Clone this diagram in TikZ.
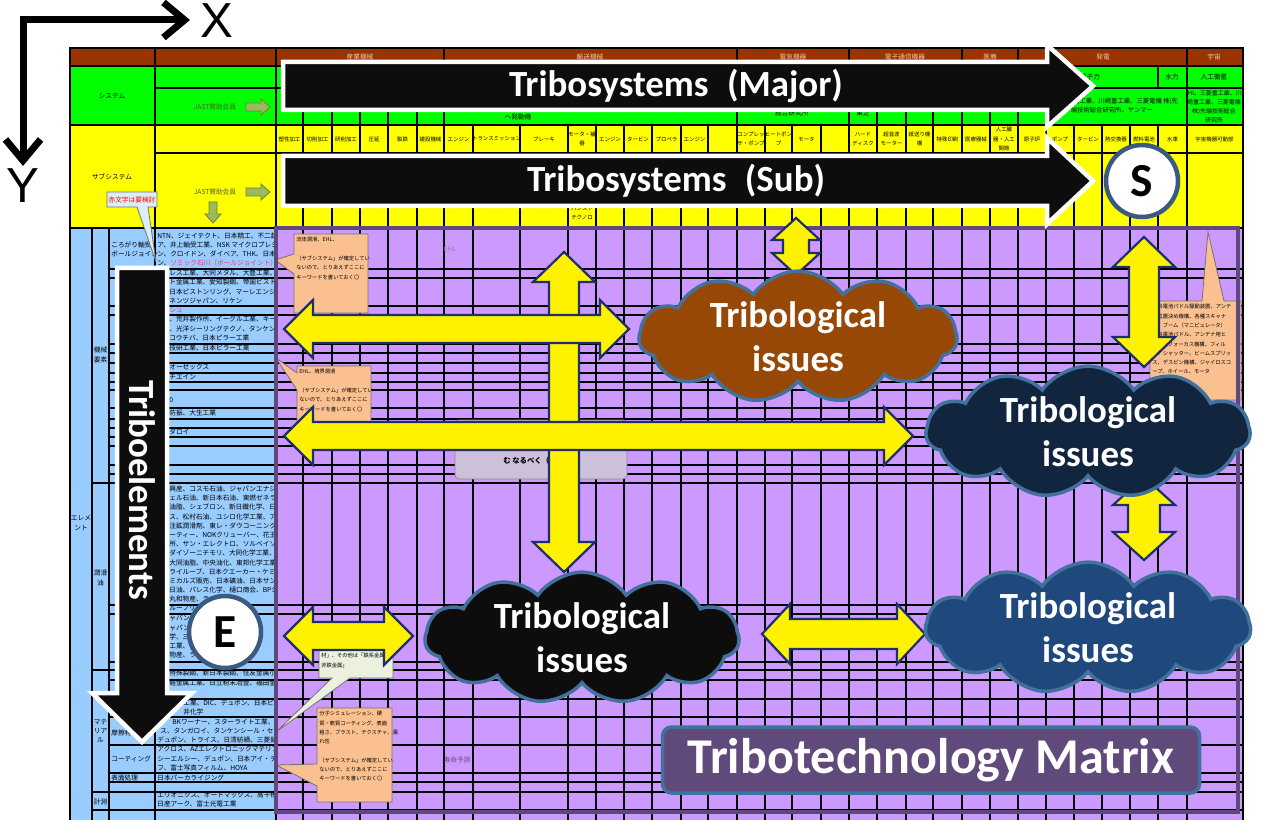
\documentclass[tikz,border=0pt]{standalone}
\usepackage{fontspec}
\usepackage{tikz}
\setmainfont{Carlito}
\newfontfamily\jp{Noto Sans CJK JP}
\newfontfamily\axfont{Liberation Sans}
\XeTeXlinebreaklocale "ja"
\XeTeXlinebreakskip=0pt plus 1pt
\usetikzlibrary{shapes.symbols,arrows.meta}
\newdimen\pxu \pxu=0.02cm
\definecolor{hdrbrown}{HTML}{993300}
\definecolor{sysgreen}{HTML}{00FF00}
\definecolor{subyellow}{HTML}{FFFF00}
\definecolor{elemblue}{HTML}{99CCFF}
\definecolor{matpurple}{HTML}{CC99FF}
\definecolor{framepurple}{HTML}{5F497A}
\definecolor{hdrpink}{HTML}{F2C4B0}
\definecolor{notepeach}{HTML}{FAC090}
\definecolor{notegreen}{HTML}{EBF1DE}
\definecolor{tipblue}{HTML}{DBEEF4}
\definecolor{boxgray}{HTML}{CCC0DA}
\definecolor{arrownavy}{HTML}{1F2F6E}
\definecolor{cloudedge}{HTML}{41719C}
\definecolor{circedge}{HTML}{3B5A82}
\definecolor{brownissue}{HTML}{974806}
\definecolor{navyissue}{HTML}{11253F}
\definecolor{blackissue}{HTML}{0D0D0D}
\definecolor{blueissue}{HTML}{1F497D}
\definecolor{ttmpurple}{HTML}{604A7B}
\definecolor{olivearr}{HTML}{9BBB59}
\definecolor{jastolive}{HTML}{4F6228}
\definecolor{redtxt}{HTML}{FF3366}
\tikzset{
    grid/.style={line width=1.3\pxu, black},
    jpt/.style={font=\jp\fontsize{3.8}{5.3}\selectfont, inner sep=0pt},
    subname/.style={font=\jp\fontsize{3.1}{5.4}\selectfont, inner sep=0pt, align=center},
    notetxt/.style={font=\jp\fontsize{3}{5.3}\selectfont, inner sep=0pt, align=left, anchor=north west},
    note/.style={draw=black!55, fill=notepeach, line width=0.8\pxu},
    jastarrow/.style={fill=olivearr, draw=olivearr!70!black, line width=0.8\pxu},
    yarrow/.style={fill=yellow, draw=arrownavy, line width=2.2\pxu, line join=miter},
    barrow/.style={fill=blackissue, draw=white, line width=4.5\pxu, line join=miter},
    bigtxt/.style={text=white, font=\fontsize{21}{25}\selectfont\bfseries, inner sep=0pt},
    issue/.style={cloud, cloud puffs=11, cloud puff arc=110, cloud ignores aspect,
        draw=cloudedge, line width=3.5\pxu, bigtxt, align=center},
    letter/.style={circle, draw=circedge, fill=white, line width=4.5\pxu,
        minimum size=72\pxu, inner sep=0pt, font=\fontsize{27}{27}\selectfont\bfseries},
    axis/.style={line width=7\pxu, line join=miter,
        {Straight Barb[length=12pt, width=20pt]}-{Straight Barb[length=12pt, width=20pt]}},
    axlbl/.style={font=\axfont\fontsize{28}{28}\selectfont, inner sep=0pt}
}
% horizontal / vertical double block arrows
\newcommand{\hdbl}[6]{\draw[yarrow] (#1,#3) -- ({#1+#4},{#3-#5}) -- ({#1+#4},{#3-#6})
    -- ({#2-#4},{#3-#6}) -- ({#2-#4},{#3-#5}) -- (#2,#3) -- ({#2-#4},{#3+#5})
    -- ({#2-#4},{#3+#6}) -- ({#1+#4},{#3+#6}) -- ({#1+#4},{#3+#5}) -- cycle;}
\newcommand{\vdbl}[6]{\draw[yarrow] (#1,#2) -- ({#1+#5},{#2+#4}) -- ({#1+#6},{#2+#4})
    -- ({#1+#6},{#3-#4}) -- ({#1+#5},{#3-#4}) -- (#1,#3) -- ({#1-#5},{#3-#4})
    -- ({#1-#6},{#3-#4}) -- ({#1-#6},{#2+#4}) -- ({#1-#5},{#2+#4}) -- cycle;}
\newcommand{\bigright}[6]{\draw[barrow] (#1,{#4-#5}) -- (#2,{#4-#5}) -- (#2,{#4-#6})
    -- (#3,#4) -- (#2,{#4+#6}) -- (#2,{#4+#5}) -- (#1,{#4+#5}) -- cycle;}

\begin{document}
\begin{tikzpicture}[x=0.02cm, y=-0.02cm]
\useasboundingbox (0,0) rectangle (1263,820);

% sheet background
\fill[hdrbrown] (70,48) rectangle (1243,66);
\fill[sysgreen] (70,66) rectangle (1243,125);
\fill[subyellow] (70,125) rectangle (1243,228);
\fill[elemblue] (70,228) rectangle (276,820);
\fill[matpurple] (276,228) rectangle (1243,820);

% grid
\foreach \cx in {155,276} \draw[grid] (\cx,48) -- (\cx,820);
\foreach \cx in {444,737,849,962,1018,1187} \draw[grid] (\cx,48) -- (\cx,66);
\foreach \cy in {66,125,228} \draw[grid] (70,\cy) -- (1243,\cy);
\foreach \cy in {88,153} \draw[grid] (155,\cy) -- (1243,\cy);
\foreach \cx in {303,332,360,388,417,444,473,520,568,596,624,652,681,708,737,765,792,821,
    849,877,906,933,962,990,1018,1046,1074,1158,1187} \draw[grid] (\cx,66) -- (\cx,88);
\foreach \cx in {303,332,360,388,417,444,737,849,877,906,933,962,990,1018,1187}
    \draw[grid] (\cx,88) -- (\cx,125);
\foreach \cx in {303,332,360,388,417,444,473,520,568,596,624,652,681,708,737,765,792,821,
    849,877,906,933,962,990,1018,1046,1074,1102,1130,1158,1187} \draw[grid] (\cx,125) -- (\cx,820);
\foreach \cx in {92,109} \draw[grid] (\cx,228) -- (\cx,820);
\foreach \cy in {269,278,306,315,344,353,363,373,382,390,408,419,428,437,446,465,474,483,
    605,614,662,670,680,699,717,745,773,782,792,810} \draw[grid] (109,\cy) -- (1243,\cy);
\foreach \cy in {483,670,792,810} \draw[grid] (92,\cy) -- (109,\cy);

% header row
\foreach \hx/\gtxt in {360/産業機械, 590/輸送機械, 793/電気機器, 905/電子通信機器, 990/医療,
    1103/発電, 1214/宇宙}
    \node[jpt, text=hdrpink] (grp\hx) at (\hx,57) {\gtxt};

% system rows
\node[jpt] (sys) at (112,96) {システム};
\node[jpt] (subsys) at (112,177) {サブシステム};
\node[jpt, text=jastolive] (jastA) at (215,107) {JAST賛助会員};
\node[jpt, text=jastolive] (jastB) at (215,192) {JAST賛助会員};
\draw[jastarrow] (246,103) -- (261,103) -- (261,99) -- (270,107) -- (261,115) -- (261,111) -- (246,111) -- cycle;
\draw[jastarrow] (246,188) -- (261,188) -- (261,184) -- (270,192) -- (261,200) -- (261,196) -- (246,196) -- cycle;
\draw[jastarrow] (209,202) -- (217,202) -- (217,214) -- (221,214) -- (213,223) -- (205,214) -- (209,214) -- cycle;
\node[jpt] (hatsu) at (518,117) {ヘ発動機};
\node[jpt] (soken) at (792,113) {総合研究所};
\node[jpt] (toshiba) at (863,113) {東芝};
\node[jpt] (genshi) at (1090,77) {原子力};
\node[jpt] (suiryoku) at (1172,77) {水力};
\node[jpt] (eisei) at (1214,77) {人工衛星};
\node[subname, font=\jp\fontsize{3.4}{5.1}\selectfont] (eiseico) at (1214,107)
    {IHI、三菱重工業、川\\崎重工業、三菱電機\\株)先端技術総合\\研究所};
\node[subname, font=\jp\fontsize{3.6}{5.2}\selectfont] (hatsuco) at (1112,106) {IHI、三菱重工業、川崎重工業、三菱電機 株)先\\端技術総合研究所、ヤンマー};

\foreach \ca/\cb/\stxt in {276/303/塑性加工, 303/332/切削加工, 332/360/研削加工, 360/388/圧延,
    388/417/製鉄, 417/444/建設機械, 444/473/エンジン, 473/520/トランスミッション, 520/568/ブレーキ,
    568/596/{モータ・補\\器}, 596/624/エンジン, 624/652/タービン, 652/681/プロペラ, 681/708/エンジン,
    737/765/{コンプレッ\\サ・ポンプ}, 765/792/{ヒートポン\\プ}, 792/821/モータ,
    849/877/{ハード\\ディスク}, 877/906/{超音波\\モーター}, 906/933/{紙送り機\\構}, 933/962/特殊印刷,
    962/990/医療器械, 990/1018/{人工臓\\器・人工\\関節}, 1018/1046/原子炉, 1046/1074/ポンプ,
    1074/1102/タービン, 1102/1130/熱交換器, 1130/1158/燃料電池, 1158/1187/水車, 1187/1242/宇宙機器可動部}
    \node[subname] (sub\ca) at ({(\ca+\cb)/2},139) {\stxt};
\node[subname] (seiki) at (492,205) {精機、};
\node[subname] (pansuto) at (582,213) {パンスト\\テクノロ};

% element labels
\node[jpt, align=center] (elem) at (81,523) {エレメ\\ント};
\node[jpt, align=center] (kikai) at (100.5,355) {機械\\要素};
\node[jpt, align=center] (junkatsu) at (100.5,578) {潤滑\\油};
\node[jpt, align=center] (material) at (100.5,731) {マテ\\リア\\ル};
\node[jpt] (keisoku) at (100.5,802) {計測};
\node[jpt, anchor=west] (korogari) at (111,245) {ころがり軸受/};
\node[jpt, anchor=west] (balljoint) at (111,254) {ボールジョイン};
\node[jpt, anchor=west] (masatsu) at (111,733) {摩擦材};
\node[jpt, anchor=west] (coating) at (111,759) {コーティング};
\node[jpt, anchor=west] (hyomen) at (111,778) {表面処理};

\begin{scope}
\clip (155,228) rectangle (273,820);
\foreach \ly/\lx/\ltxt in {236/157/NTN、ジェイテクト、日本精工、不二越、ミネベ,
    245/157/ア、井上軸受工業、NSK マイクロプレシジョ,
    254/157/ン、クロイドン、ダイベア、THK、日本トムソ,
    263/157/ン、\textcolor{redtxt}{ソミック石川（ボールジョイント）、},
    273/169/レス工業、大同メタル、大豊工業、三菱, 282/169/ト金属工業、愛知製鋼、帝国ピストンリング,
    292/169/日本ピストンリング、マーレエンジンコン, 301/169/ネンツジャパン、リケン,
    310/169/\textcolor{redtxt}{シュ}, 319/169/、荒井製作所、イーグル工業、キー,
    329/169/、光洋シーリングテクノ、タンケンシール, 338/169/コウチバ、日本ピラー工業,
    348/169/技研工業、日本ピラー工業, 367/169/オーゼックス, 377/169/チエイン, 400/169/0,
    413/169/防振、大生工業, 432/169/ダロイ,
    489/169/興産、コスモ石油、ジャパンエナジー、昭, 498/169/ェル石油、新日本石油、東燃ゼネラル、,
    507/169/油脂、シェブロン、新日鐵化学、日本グ, 517/169/ス、松村石油、ユシロ化学工業、アクロ,
    526/169/注鉱潤滑剤、東レ・ダウコーニング、エヌ, 535/169/ーティー、NOKクリューバー、花王和歌山,
    544/169/所、サン・エレクトロ、ソルベイソレクシ, 553/169/ダイゾーニチモリ、大同化学工業、大東,
    563/169/大同油脂、中央油化、東邦化学工業、東, 572/169/ライルーブ、日本クエーカー・ケミカル、日,
    581/169/ミカルズ販売、日本礦油、日本サン石, 590/169/日油、パレス化学、樋口商会、BPジャパ,
    599/169/丸和物産、ライ, 608/169/ループリゾール, 618/169/ャパン、, 628/169/ャパン、,
    637/169/学、三洋, 646/169/工業、日, 655/169/物産、ライ,
    673/169/特殊製鋼、新日本製鋼、住友金属小倉, 683/169/軽金属工業、日立粉末冶金、福田金属,
    703/183/工業、DIC、デュポン、日本ピラー工, 712/183/井化学,
    722/172/BKワーナー、スターライト工業、ダイナック, 731/160/ス、タンガロイ、タンケンシール・セーコウチバ,
    740/157/デュポン、トライス、日清紡績、三菱鉛筆, 749/157/アクロス、AZエレクトロニックマテリアルズ、,
    759/157/シーエルシー、デュポン、日本アイ・ティ・エ, 768/157/フ、富士写真フィルム、HOYA,
    778/157/日本パーカライジング, 795/157/エリオニクス、オートマックス、高千穂精機、,
    804/157/日産アーク、富士光電工業}
    \node[jpt, anchor=west] (co\ly) at (\lx,\ly) {\ltxt};
\end{scope}

% purple area texts
\node[jpt, text=framepurple!70] (ehl) at (450,249) {EHL};
\node[jpt, text=framepurple] (jumyo) at (457,760) {寿命予測};

% callouts
\draw[draw=black!55, fill=tipblue, line width=0.8\pxu] (107,192) -- (157,192) -- (157,207) -- (148,207)
    -- (156,262) -- (137,207) -- (107,207) -- cycle;
\node[jpt, text=red] (redtip) at (132,199.5) {赤文字は要検討};
\draw[note] (294,234) -- (368,234) -- (368,313) -- (294,313) -- (294,274) -- (275,260) -- (294,254) -- cycle;
\node[notetxt] (noteA) at (296,237) {流体潤滑、EHL、\\[5.3pt]（サブシステム」が確定してい\\ないので、とりあえずここに\\キーワードを書いておく〇};
\draw[note] (297,366) -- (371,366) -- (371,425) -- (297,425) -- (297,390) -- (276,358) -- (297,373) -- cycle;
\node[notetxt] (noteB) at (299,369) {EHL、境界潤滑\\[5.3pt]（サブシステム」が確定してい\\ないので、とりあえずここに\\キーワードを書いておく〇};
\draw[note] (317,708) -- (392,708) -- (392,802) -- (317,802) -- (317,786) -- (276,765) -- (317,764) -- cycle;
\node[notetxt] (noteC) at (319,711) {分子シミュレーション、硬\\質・軟質コーティング、表面\\粗さ、ブラスト、テクスチャ、濡\\れ性\\[5.3pt]（サブシステム」が確定してい\\ないので、とりあえずここに\\キーワードを書いておく〇};
\draw[note, fill=notegreen] (319,640) -- (393,640) -- (393,678) -- (350,678) -- (276,732) -- (332,678) -- (319,678) -- cycle;
\node[notetxt] (noteD) at (321,653) {材」、その他は「鉄系金属・\\非鉄金属」};
\draw[note] (1150,301) -- (1202,301) -- (1208,232) -- (1224,301) -- (1241,301) -- (1241,400) -- (1150,400) -- cycle;
\begin{scope}
\clip (1150,301) rectangle (1241,400);
\node[notetxt] (noteE) at (1152,304) {燃料電池パドル駆動装置、アンテ\\ナ位置決め機構、各種スキャナ\\ー、ブーム（マニピュレータ）\\燃料電池パドル、アンテナ用ヒ\\ンチ、フォーカス機構、フィル\\ス、シャッター、ビームスプリッ\\ス、デスピン機構、ジャイロスコ\\ープ、ホイール、モータ};
\end{scope}
\draw[fill=boxgray, draw=black!45, rounded corners=4\pxu, line width=0.8\pxu] (455,420) rectangle (627,479);
\node[jpt, font=\jp\bfseries\fontsize{4.2}{5}\selectfont] (naru) at (541,461) {む なるべく（　　　）};

\draw[line width=3.5\pxu, framepurple] (276,228) rectangle (1238,812);
\draw[line width=1.5\pxu] (70,48) rectangle (1243,830);

% yellow links
\vdbl{564}{252}{572}{30}{31}{15}
\hdbl{284}{629}{329}{29}{29}{14}
\hdbl{284}{913}{436}{29}{29}{14}
\vdbl{796}{218}{275}{22}{24}{13}
\vdbl{1144}{237}{367}{30}{31}{15}
\vdbl{1144}{477}{560}{28}{31}{16}
\hdbl{284}{413}{636}{29}{29}{14}
\hdbl{762}{925}{634}{28}{30}{15}

% big arrows
\bigright{283}{1047}{1093}{86}{24}{41}
\node[bigtxt] (major) at (676,86) {Tribosystems\enspace(Major)};
\bigright{283}{1047}{1093}{181}{25}{43}
\node[bigtxt] (sub) at (676,181) {Tribosystems\enspace(Sub)};
\draw[barrow] (117,268) -- (167,268) -- (167,693) -- (192,693) -- (142,742) -- (92,693) -- (117,693) -- cycle;
\node[bigtxt, rotate=-90] (elements) at (142,490) {Triboelements};

% issues
\node[issue, fill=brownissue, minimum width=318\pxu, minimum height=122\pxu] (issueA) at (798,337) {Tribological\\issues};
\node[issue, fill=navyissue, minimum width=324\pxu, minimum height=120\pxu] (issueB) at (1088,432) {Tribological\\issues};
\node[issue, fill=blackissue, minimum width=314\pxu, minimum height=108\pxu] (issueC) at (582,638) {Tribological\\issues};
\node[issue, fill=blueissue, minimum width=325\pxu, minimum height=126\pxu] (issueD) at (1088,628) {Tribological\\issues};

\node[letter] (circS) at (1142,181) {S};
\node[letter] (circE) at (225,632) {E};
\node[draw=cloudedge, fill=ttmpurple, line width=3.5\pxu, rounded corners=9\pxu, minimum width=537\pxu,
    minimum height=66\pxu, text=white, font=\fontsize{28.5}{30}\selectfont\bfseries] (ttm) at (931,760) {Tribotechnology Matrix};

% axes
\coordinate (orig) at (23,20);
\coordinate (xtip) at (190,20);
\coordinate (ytip) at (23,166);
\draw[axis] (xtip) -- (orig) -- (ytip);
\node[axlbl] (xlab) at (217,21) {X};
\node[axlbl] (ylab) at (23,186) {Y};
\end{tikzpicture}
\end{document}
